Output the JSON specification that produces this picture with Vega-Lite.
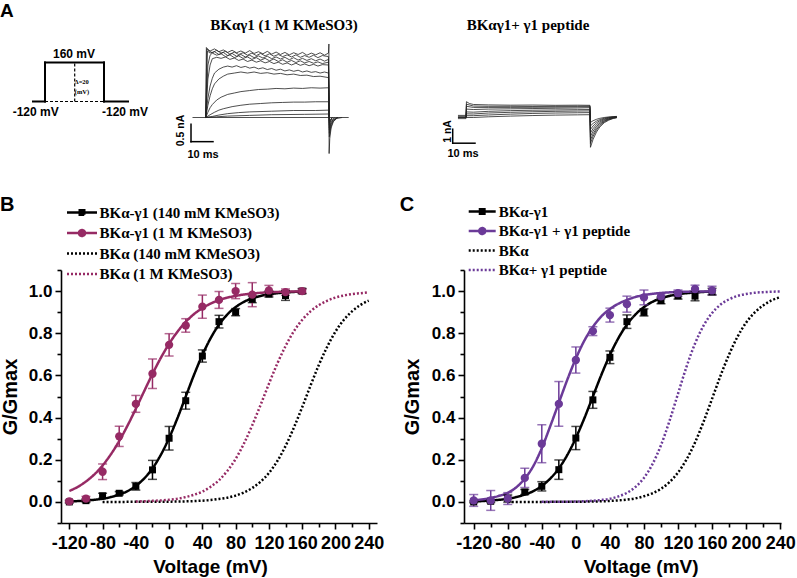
{
"$schema": "https://vega.github.io/schema/vega-lite/v6.json",
"background": "white",
"padding": {"left": 0, "top": 1.5, "right": 0, "bottom": 0},
"config": {
  "view": {"stroke": null},
  "axis": {"grid": false, "domainColor": "#000", "domainWidth": 1.6, "tickColor": "#000", "tickWidth": 1.6, "labelColor": "#000", "labelFont": "Liberation Sans", "labelFontSize": 17, "labelFontWeight": "bold", "titleColor": "#000", "titleFont": "Liberation Sans", "titleFontWeight": "bold", "titleFontSize": 20, "labelOverlap": false, "labelFlush": false},
  "title": {"color": "#000"}
},
"datasets": {
  "proto": [
    {"t": 0, "v": -120, "t2": 12, "v2": -120},
    {"t": 12, "v": -120, "t2": 12, "v2": 160},
    {"t": 12, "v": 160, "t2": 71, "v2": 160},
    {"t": 71, "v": 160, "t2": 71, "v2": -120},
    {"t": 71, "v": -120, "t2": 95, "v2": -120}
  ],
  "proto_dash": [
    {"t": 12, "v": -120, "t2": 71, "v2": -120},
    {"t": 41.7, "v": -120, "t2": 41.7, "v2": 160}
  ],
  "trace1": [
    {"k":0,"t":-6,"i":0},{"k":0,"t":65,"i":0},
    {"k":1,"t":0,"i":0},{"k":1,"t":0.3,"i":2.0},{"k":1,"t":1,"i":1.95},{"k":1,"t":2,"i":1.9},{"k":1,"t":4,"i":1.96},{"k":1,"t":6,"i":1.88},{"k":1,"t":8,"i":1.93},{"k":1,"t":10,"i":1.86},{"k":1,"t":12,"i":1.92},{"k":1,"t":14,"i":1.85},{"k":1,"t":16,"i":1.9},{"k":1,"t":18,"i":1.84},{"k":1,"t":20,"i":1.91},{"k":1,"t":22,"i":1.83},{"k":1,"t":24,"i":1.88},{"k":1,"t":26,"i":1.82},{"k":1,"t":28,"i":1.89},{"k":1,"t":30,"i":1.81},{"k":1,"t":32,"i":1.87},{"k":1,"t":34,"i":1.8},{"k":1,"t":36,"i":1.86},{"k":1,"t":38,"i":1.79},{"k":1,"t":40,"i":1.85},{"k":1,"t":42,"i":1.8},{"k":1,"t":44,"i":1.86},{"k":1,"t":46,"i":1.78},{"k":1,"t":48,"i":1.84},{"k":1,"t":50,"i":1.79},{"k":1,"t":52,"i":1.85},{"k":1,"t":54,"i":1.78},{"k":1,"t":55.8,"i":1.84},{"k":1,"t":56,"i":2.1},{"k":1,"t":56.1,"i":-1.03},{"k":1,"t":56.4,"i":-0.6},{"k":1,"t":57,"i":-0.3},{"k":1,"t":58,"i":-0.12},{"k":1,"t":59.5,"i":-0.03},{"k":1,"t":62,"i":0},
    {"k":2,"t":0,"i":0},{"k":2,"t":0.5,"i":1.96},{"k":2,"t":1.5,"i":1.9},{"k":2,"t":3,"i":1.85},{"k":2,"t":5,"i":1.92},{"k":2,"t":7,"i":1.84},{"k":2,"t":9,"i":1.89},{"k":2,"t":11,"i":1.81},{"k":2,"t":13,"i":1.87},{"k":2,"t":15,"i":1.8},{"k":2,"t":17,"i":1.85},{"k":2,"t":19,"i":1.78},{"k":2,"t":21,"i":1.84},{"k":2,"t":23,"i":1.77},{"k":2,"t":25,"i":1.83},{"k":2,"t":27,"i":1.76},{"k":2,"t":29,"i":1.82},{"k":2,"t":31,"i":1.75},{"k":2,"t":33,"i":1.8},{"k":2,"t":35,"i":1.74},{"k":2,"t":37,"i":1.79},{"k":2,"t":39,"i":1.73},{"k":2,"t":41,"i":1.79},{"k":2,"t":43,"i":1.72},{"k":2,"t":45,"i":1.77},{"k":2,"t":47,"i":1.72},{"k":2,"t":49,"i":1.78},{"k":2,"t":51,"i":1.71},{"k":2,"t":53,"i":1.77},{"k":2,"t":55.8,"i":1.74},{"k":2,"t":56.2,"i":-0.55},{"k":2,"t":57,"i":-0.25},{"k":2,"t":58,"i":-0.1},{"k":2,"t":60,"i":0},
    {"k":3,"t":0,"i":0},{"k":3,"t":0.8,"i":1.9},{"k":3,"t":2,"i":1.84},{"k":3,"t":4,"i":1.88},{"k":3,"t":6,"i":1.8},{"k":3,"t":8,"i":1.86},{"k":3,"t":10,"i":1.77},{"k":3,"t":12,"i":1.83},{"k":3,"t":14,"i":1.75},{"k":3,"t":16,"i":1.8},{"k":3,"t":18,"i":1.73},{"k":3,"t":20,"i":1.78},{"k":3,"t":22,"i":1.71},{"k":3,"t":24,"i":1.76},{"k":3,"t":26,"i":1.7},{"k":3,"t":28,"i":1.75},{"k":3,"t":30,"i":1.68},{"k":3,"t":32,"i":1.73},{"k":3,"t":34,"i":1.67},{"k":3,"t":36,"i":1.72},{"k":3,"t":38,"i":1.65},{"k":3,"t":40,"i":1.71},{"k":3,"t":42,"i":1.64},{"k":3,"t":44,"i":1.69},{"k":3,"t":46,"i":1.63},{"k":3,"t":48,"i":1.68},{"k":3,"t":50,"i":1.62},{"k":3,"t":52,"i":1.67},{"k":3,"t":54,"i":1.61},{"k":3,"t":55.8,"i":1.66},{"k":3,"t":56.2,"i":-0.45},{"k":3,"t":57,"i":-0.2},{"k":3,"t":58,"i":-0.08},{"k":3,"t":60,"i":0},
    {"k":4,"t":0,"i":0},{"k":4,"t":1,"i":1.5},{"k":4,"t":2,"i":1.78},{"k":4,"t":3,"i":1.84},{"k":4,"t":5,"i":1.78},{"k":4,"t":7,"i":1.82},{"k":4,"t":9,"i":1.74},{"k":4,"t":11,"i":1.79},{"k":4,"t":13,"i":1.71},{"k":4,"t":15,"i":1.76},{"k":4,"t":17,"i":1.69},{"k":4,"t":19,"i":1.73},{"k":4,"t":21,"i":1.66},{"k":4,"t":23,"i":1.71},{"k":4,"t":25,"i":1.64},{"k":4,"t":27,"i":1.69},{"k":4,"t":29,"i":1.62},{"k":4,"t":31,"i":1.67},{"k":4,"t":33,"i":1.6},{"k":4,"t":35,"i":1.65},{"k":4,"t":37,"i":1.58},{"k":4,"t":39,"i":1.63},{"k":4,"t":41,"i":1.57},{"k":4,"t":43,"i":1.62},{"k":4,"t":45,"i":1.56},{"k":4,"t":47,"i":1.6},{"k":4,"t":49,"i":1.55},{"k":4,"t":51,"i":1.59},{"k":4,"t":53,"i":1.54},{"k":4,"t":55.8,"i":1.58},{"k":4,"t":56.2,"i":-0.35},{"k":4,"t":57,"i":-0.15},{"k":4,"t":58,"i":-0.05},{"k":4,"t":60,"i":0},
    {"k":5,"t":0,"i":0},{"k":5,"t":1,"i":1.1},{"k":5,"t":2,"i":1.5},{"k":5,"t":3,"i":1.68},{"k":5,"t":5,"i":1.72},{"k":5,"t":7,"i":1.69},{"k":5,"t":9,"i":1.73},{"k":5,"t":11,"i":1.66},{"k":5,"t":13,"i":1.7},{"k":5,"t":15,"i":1.63},{"k":5,"t":17,"i":1.67},{"k":5,"t":19,"i":1.6},{"k":5,"t":21,"i":1.64},{"k":5,"t":23,"i":1.58},{"k":5,"t":25,"i":1.62},{"k":5,"t":27,"i":1.56},{"k":5,"t":29,"i":1.6},{"k":5,"t":31,"i":1.54},{"k":5,"t":33,"i":1.58},{"k":5,"t":35,"i":1.52},{"k":5,"t":37,"i":1.56},{"k":5,"t":39,"i":1.5},{"k":5,"t":41,"i":1.55},{"k":5,"t":43,"i":1.49},{"k":5,"t":45,"i":1.53},{"k":5,"t":47,"i":1.48},{"k":5,"t":49,"i":1.52},{"k":5,"t":51,"i":1.47},{"k":5,"t":53,"i":1.51},{"k":5,"t":55.8,"i":1.5},{"k":5,"t":56.2,"i":-0.3},{"k":5,"t":57,"i":-0.12},{"k":5,"t":58.5,"i":0},
    {"k":6,"t":0,"i":0},{"k":6,"t":1,"i":0.55},{"k":6,"t":2,"i":0.9},{"k":6,"t":3,"i":1.12},{"k":6,"t":4,"i":1.27},{"k":6,"t":6,"i":1.38},{"k":6,"t":8,"i":1.44},{"k":6,"t":10,"i":1.47},{"k":6,"t":12,"i":1.44},{"k":6,"t":14,"i":1.48},{"k":6,"t":16,"i":1.43},{"k":6,"t":18,"i":1.46},{"k":6,"t":20,"i":1.41},{"k":6,"t":22,"i":1.44},{"k":6,"t":24,"i":1.39},{"k":6,"t":26,"i":1.42},{"k":6,"t":28,"i":1.37},{"k":6,"t":30,"i":1.4},{"k":6,"t":32,"i":1.35},{"k":6,"t":34,"i":1.38},{"k":6,"t":36,"i":1.33},{"k":6,"t":38,"i":1.36},{"k":6,"t":40,"i":1.32},{"k":6,"t":42,"i":1.35},{"k":6,"t":44,"i":1.3},{"k":6,"t":46,"i":1.33},{"k":6,"t":48,"i":1.29},{"k":6,"t":50,"i":1.31},{"k":6,"t":52,"i":1.27},{"k":6,"t":54,"i":1.3},{"k":6,"t":55.8,"i":1.27},{"k":6,"t":56.2,"i":-0.2},{"k":6,"t":57.5,"i":0},
    {"k":7,"t":0,"i":0},{"k":7,"t":1,"i":0.35},{"k":7,"t":2,"i":0.62},{"k":7,"t":3,"i":0.82},{"k":7,"t":4,"i":0.96},{"k":7,"t":6,"i":1.1},{"k":7,"t":8,"i":1.18},{"k":7,"t":10,"i":1.24},{"k":7,"t":13,"i":1.27},{"k":7,"t":16,"i":1.3},{"k":7,"t":19,"i":1.27},{"k":7,"t":22,"i":1.3},{"k":7,"t":25,"i":1.26},{"k":7,"t":28,"i":1.28},{"k":7,"t":31,"i":1.24},{"k":7,"t":34,"i":1.26},{"k":7,"t":37,"i":1.22},{"k":7,"t":40,"i":1.24},{"k":7,"t":43,"i":1.2},{"k":7,"t":46,"i":1.21},{"k":7,"t":49,"i":1.17},{"k":7,"t":52,"i":1.18},{"k":7,"t":55.8,"i":1.14},{"k":7,"t":56.2,"i":-0.15},{"k":7,"t":57.5,"i":0},
    {"k":8,"t":0,"i":0},{"k":8,"t":1,"i":0.15},{"k":8,"t":2,"i":0.28},{"k":8,"t":3,"i":0.37},{"k":8,"t":5,"i":0.5},{"k":8,"t":7,"i":0.58},{"k":8,"t":10,"i":0.66},{"k":8,"t":13,"i":0.7},{"k":8,"t":16,"i":0.74},{"k":8,"t":20,"i":0.77},{"k":8,"t":24,"i":0.8},{"k":8,"t":28,"i":0.81},{"k":8,"t":32,"i":0.83},{"k":8,"t":36,"i":0.82},{"k":8,"t":40,"i":0.84},{"k":8,"t":44,"i":0.83},{"k":8,"t":48,"i":0.85},{"k":8,"t":52,"i":0.84},{"k":8,"t":55.8,"i":0.85},{"k":8,"t":56.2,"i":-0.1},{"k":8,"t":57.5,"i":0},
    {"k":9,"t":0,"i":0},{"k":9,"t":2,"i":0.08},{"k":9,"t":4,"i":0.15},{"k":9,"t":6,"i":0.21},{"k":9,"t":8,"i":0.25},{"k":9,"t":12,"i":0.31},{"k":9,"t":16,"i":0.35},{"k":9,"t":20,"i":0.38},{"k":9,"t":25,"i":0.4},{"k":9,"t":30,"i":0.42},{"k":9,"t":35,"i":0.43},{"k":9,"t":40,"i":0.44},{"k":9,"t":45,"i":0.44},{"k":9,"t":50,"i":0.45},{"k":9,"t":55.8,"i":0.45},{"k":9,"t":56.2,"i":0},
    {"k":10,"t":0,"i":0},{"k":10,"t":3,"i":0.03},{"k":10,"t":6,"i":0.07},{"k":10,"t":10,"i":0.11},{"k":10,"t":15,"i":0.14},{"k":10,"t":20,"i":0.16},{"k":10,"t":30,"i":0.18},{"k":10,"t":40,"i":0.2},{"k":10,"t":50,"i":0.2},{"k":10,"t":55.8,"i":0.21},{"k":10,"t":56.2,"i":0},
    {"k":11,"t":0,"i":0},{"k":11,"t":5,"i":0.02},{"k":11,"t":10,"i":0.04},{"k":11,"t":20,"i":0.06},{"k":11,"t":30,"i":0.08},{"k":11,"t":45,"i":0.09},{"k":11,"t":55.8,"i":0.1},{"k":11,"t":56.2,"i":0}
  ],
  "trace2": [
    {"k":1,"t":-3.6,"i":0},{"k":1,"t":0,"i":0},{"k":1,"t":0.2,"i":1.13},{"k":1,"t":1.5,"i":1.0},{"k":1,"t":3.3,"i":0.93},{"k":1,"t":10,"i":0.9},{"k":1,"t":20,"i":0.88},{"k":1,"t":30,"i":0.89},{"k":1,"t":40,"i":0.87},{"k":1,"t":50,"i":0.88},{"k":1,"t":55.6,"i":0.87},{"k":1,"t":55.8,"i":-2.13},{"k":1,"t":57,"i":-1.55},{"k":1,"t":58.5,"i":-1.04},{"k":1,"t":60,"i":-0.68},{"k":1,"t":62,"i":-0.37},{"k":1,"t":64,"i":-0.19},{"k":1,"t":66,"i":-0.07},{"k":1,"t":67.6,"i":-0.02},
    {"k":2,"t":-3.6,"i":0.08},{"k":2,"t":0,"i":0.08},{"k":2,"t":0.2,"i":0.95},{"k":2,"t":3.3,"i":0.82},{"k":2,"t":10,"i":0.8},{"k":2,"t":20,"i":0.8},{"k":2,"t":30,"i":0.79},{"k":2,"t":40,"i":0.8},{"k":2,"t":50,"i":0.81},{"k":2,"t":55.6,"i":0.82},{"k":2,"t":55.8,"i":-1.85},{"k":2,"t":57,"i":-1.34},{"k":2,"t":58.5,"i":-0.89},{"k":2,"t":60,"i":-0.58},{"k":2,"t":62,"i":-0.31},{"k":2,"t":64,"i":-0.15},{"k":2,"t":66,"i":-0.05},{"k":2,"t":67.6,"i":0.0},
    {"k":3,"t":-3.6,"i":0.15},{"k":3,"t":0,"i":0.15},{"k":3,"t":0.2,"i":0.8},{"k":3,"t":3.3,"i":0.72},{"k":3,"t":10,"i":0.72},{"k":3,"t":20,"i":0.72},{"k":3,"t":30,"i":0.73},{"k":3,"t":40,"i":0.74},{"k":3,"t":50,"i":0.76},{"k":3,"t":55.6,"i":0.77},{"k":3,"t":55.8,"i":-1.6},{"k":3,"t":57,"i":-1.16},{"k":3,"t":58.5,"i":-0.77},{"k":3,"t":60,"i":-0.5},{"k":3,"t":62,"i":-0.26},{"k":3,"t":64,"i":-0.12},{"k":3,"t":66,"i":-0.03},{"k":3,"t":67.6,"i":0.01},
    {"k":4,"t":-3.6,"i":0},{"k":4,"t":0,"i":0},{"k":4,"t":0.2,"i":0.6},{"k":4,"t":3.3,"i":0.57},{"k":4,"t":10,"i":0.6},{"k":4,"t":20,"i":0.62},{"k":4,"t":30,"i":0.64},{"k":4,"t":40,"i":0.66},{"k":4,"t":50,"i":0.68},{"k":4,"t":55.6,"i":0.7},{"k":4,"t":55.8,"i":-1.35},{"k":4,"t":57,"i":-0.97},{"k":4,"t":58.5,"i":-0.64},{"k":4,"t":60,"i":-0.41},{"k":4,"t":62,"i":-0.21},{"k":4,"t":64,"i":-0.09},{"k":4,"t":66,"i":-0.01},{"k":4,"t":67.6,"i":0.02},
    {"k":5,"t":-3.6,"i":-0.08},{"k":5,"t":0,"i":-0.08},{"k":5,"t":0.2,"i":0.4},{"k":5,"t":3.3,"i":0.38},{"k":5,"t":10,"i":0.44},{"k":5,"t":20,"i":0.49},{"k":5,"t":30,"i":0.52},{"k":5,"t":40,"i":0.54},{"k":5,"t":50,"i":0.56},{"k":5,"t":55.6,"i":0.57},{"k":5,"t":55.8,"i":-1.1},{"k":5,"t":57,"i":-0.79},{"k":5,"t":58.5,"i":-0.51},{"k":5,"t":60,"i":-0.32},{"k":5,"t":62,"i":-0.15},{"k":5,"t":64,"i":-0.05},{"k":5,"t":66,"i":0.01},{"k":5,"t":67.6,"i":0.04},
    {"k":6,"t":0,"i":0},{"k":6,"t":0.2,"i":0.26},{"k":6,"t":3.3,"i":0.25},{"k":6,"t":10,"i":0.32},{"k":6,"t":20,"i":0.37},{"k":6,"t":30,"i":0.41},{"k":6,"t":40,"i":0.44},{"k":6,"t":50,"i":0.46},{"k":6,"t":55.6,"i":0.47},{"k":6,"t":55.8,"i":-0.85},{"k":6,"t":57,"i":-0.6},{"k":6,"t":58.5,"i":-0.38},{"k":6,"t":60,"i":-0.23},{"k":6,"t":62,"i":-0.1},{"k":6,"t":64,"i":-0.02},{"k":6,"t":66,"i":0.03},{"k":6,"t":67.6,"i":0.05},
    {"k":7,"t":0,"i":0},{"k":7,"t":0.2,"i":0.13},{"k":7,"t":3.3,"i":0.13},{"k":7,"t":10,"i":0.18},{"k":7,"t":20,"i":0.24},{"k":7,"t":30,"i":0.29},{"k":7,"t":40,"i":0.32},{"k":7,"t":50,"i":0.34},{"k":7,"t":55.6,"i":0.35},{"k":7,"t":55.8,"i":-0.6},{"k":7,"t":57,"i":-0.42},{"k":7,"t":58.5,"i":-0.26},{"k":7,"t":60,"i":-0.15},{"k":7,"t":62,"i":-0.05},{"k":7,"t":64,"i":0.01},{"k":7,"t":66,"i":0.05},{"k":7,"t":67.6,"i":0.06},
    {"k":8,"t":0,"i":0},{"k":8,"t":3.3,"i":0.0},{"k":8,"t":10,"i":0.05},{"k":8,"t":20,"i":0.1},{"k":8,"t":30,"i":0.14},{"k":8,"t":40,"i":0.17},{"k":8,"t":50,"i":0.19},{"k":8,"t":55.6,"i":0.2},{"k":8,"t":55.8,"i":-0.35},{"k":8,"t":57,"i":-0.23},{"k":8,"t":58.5,"i":-0.13},{"k":8,"t":60,"i":-0.06},{"k":8,"t":62,"i":0.0},{"k":8,"t":64,"i":0.04},{"k":8,"t":66,"i":0.06},{"k":8,"t":67.6,"i":0.08}
  ],
  "B_fit": [
    {"series":"BKα-γ1 (140 mM KMeSO3)","V":-120,"G":0.003},{"series":"BKα-γ1 (140 mM KMeSO3)","V":-110,"G":0.004},{"series":"BKα-γ1 (140 mM KMeSO3)","V":-100,"G":0.007},{"series":"BKα-γ1 (140 mM KMeSO3)","V":-90,"G":0.010},{"series":"BKα-γ1 (140 mM KMeSO3)","V":-80,"G":0.015},{"series":"BKα-γ1 (140 mM KMeSO3)","V":-70,"G":0.023},{"series":"BKα-γ1 (140 mM KMeSO3)","V":-60,"G":0.035},{"series":"BKα-γ1 (140 mM KMeSO3)","V":-50,"G":0.051},{"series":"BKα-γ1 (140 mM KMeSO3)","V":-40,"G":0.076},{"series":"BKα-γ1 (140 mM KMeSO3)","V":-30,"G":0.111},{"series":"BKα-γ1 (140 mM KMeSO3)","V":-20,"G":0.159},{"series":"BKα-γ1 (140 mM KMeSO3)","V":-10,"G":0.223},{"series":"BKα-γ1 (140 mM KMeSO3)","V":0,"G":0.303},{"series":"BKα-γ1 (140 mM KMeSO3)","V":10,"G":0.397},{"series":"BKα-γ1 (140 mM KMeSO3)","V":20,"G":0.5},{"series":"BKα-γ1 (140 mM KMeSO3)","V":30,"G":0.603},{"series":"BKα-γ1 (140 mM KMeSO3)","V":40,"G":0.697},{"series":"BKα-γ1 (140 mM KMeSO3)","V":50,"G":0.777},{"series":"BKα-γ1 (140 mM KMeSO3)","V":60,"G":0.841},{"series":"BKα-γ1 (140 mM KMeSO3)","V":70,"G":0.889},{"series":"BKα-γ1 (140 mM KMeSO3)","V":80,"G":0.924},{"series":"BKα-γ1 (140 mM KMeSO3)","V":90,"G":0.949},{"series":"BKα-γ1 (140 mM KMeSO3)","V":100,"G":0.966},{"series":"BKα-γ1 (140 mM KMeSO3)","V":110,"G":0.977},{"series":"BKα-γ1 (140 mM KMeSO3)","V":120,"G":0.985},{"series":"BKα-γ1 (140 mM KMeSO3)","V":130,"G":0.990},{"series":"BKα-γ1 (140 mM KMeSO3)","V":140,"G":0.993},{"series":"BKα-γ1 (140 mM KMeSO3)","V":150,"G":0.996},{"series":"BKα-γ1 (140 mM KMeSO3)","V":160,"G":0.997},
    {"series":"BKα-γ1 (1 M KMeSO3)","V":-120,"G":0.052},{"series":"BKα-γ1 (1 M KMeSO3)","V":-110,"G":0.071},{"series":"BKα-γ1 (1 M KMeSO3)","V":-100,"G":0.097},{"series":"BKα-γ1 (1 M KMeSO3)","V":-90,"G":0.130},{"series":"BKα-γ1 (1 M KMeSO3)","V":-80,"G":0.173},{"series":"BKα-γ1 (1 M KMeSO3)","V":-70,"G":0.226},{"series":"BKα-γ1 (1 M KMeSO3)","V":-60,"G":0.289},{"series":"BKα-γ1 (1 M KMeSO3)","V":-50,"G":0.362},{"series":"BKα-γ1 (1 M KMeSO3)","V":-40,"G":0.442},{"series":"BKα-γ1 (1 M KMeSO3)","V":-30,"G":0.525},{"series":"BKα-γ1 (1 M KMeSO3)","V":-20,"G":0.607},{"series":"BKα-γ1 (1 M KMeSO3)","V":-10,"G":0.683},{"series":"BKα-γ1 (1 M KMeSO3)","V":0,"G":0.750},{"series":"BKα-γ1 (1 M KMeSO3)","V":10,"G":0.807},{"series":"BKα-γ1 (1 M KMeSO3)","V":20,"G":0.854},{"series":"BKα-γ1 (1 M KMeSO3)","V":30,"G":0.891},{"series":"BKα-γ1 (1 M KMeSO3)","V":40,"G":0.919},{"series":"BKα-γ1 (1 M KMeSO3)","V":50,"G":0.941},{"series":"BKα-γ1 (1 M KMeSO3)","V":60,"G":0.957},{"series":"BKα-γ1 (1 M KMeSO3)","V":70,"G":0.969},{"series":"BKα-γ1 (1 M KMeSO3)","V":80,"G":0.977},{"series":"BKα-γ1 (1 M KMeSO3)","V":90,"G":0.984},{"series":"BKα-γ1 (1 M KMeSO3)","V":100,"G":0.988},{"series":"BKα-γ1 (1 M KMeSO3)","V":110,"G":0.992},{"series":"BKα-γ1 (1 M KMeSO3)","V":120,"G":0.994},{"series":"BKα-γ1 (1 M KMeSO3)","V":130,"G":0.996},{"series":"BKα-γ1 (1 M KMeSO3)","V":140,"G":0.997},{"series":"BKα-γ1 (1 M KMeSO3)","V":150,"G":0.998},{"series":"BKα-γ1 (1 M KMeSO3)","V":160,"G":0.998},
    {"series":"BKα (140 mM KMeSO3)","V":-80,"G":0.0},{"series":"BKα (140 mM KMeSO3)","V":-70,"G":0.0001},{"series":"BKα (140 mM KMeSO3)","V":-60,"G":0.0001},{"series":"BKα (140 mM KMeSO3)","V":-50,"G":0.0002},{"series":"BKα (140 mM KMeSO3)","V":-40,"G":0.0002},{"series":"BKα (140 mM KMeSO3)","V":-30,"G":0.0004},{"series":"BKα (140 mM KMeSO3)","V":-20,"G":0.0005},{"series":"BKα (140 mM KMeSO3)","V":-10,"G":0.0008},{"series":"BKα (140 mM KMeSO3)","V":0,"G":0.0012},{"series":"BKα (140 mM KMeSO3)","V":10,"G":0.0018},{"series":"BKα (140 mM KMeSO3)","V":20,"G":0.0027},{"series":"BKα (140 mM KMeSO3)","V":30,"G":0.004},{"series":"BKα (140 mM KMeSO3)","V":40,"G":0.006},{"series":"BKα (140 mM KMeSO3)","V":50,"G":0.009},{"series":"BKα (140 mM KMeSO3)","V":60,"G":0.014},{"series":"BKα (140 mM KMeSO3)","V":70,"G":0.020},{"series":"BKα (140 mM KMeSO3)","V":80,"G":0.030},{"series":"BKα (140 mM KMeSO3)","V":90,"G":0.045},{"series":"BKα (140 mM KMeSO3)","V":100,"G":0.066},{"series":"BKα (140 mM KMeSO3)","V":110,"G":0.096},{"series":"BKα (140 mM KMeSO3)","V":120,"G":0.137},{"series":"BKα (140 mM KMeSO3)","V":130,"G":0.193},{"series":"BKα (140 mM KMeSO3)","V":140,"G":0.265},{"series":"BKα (140 mM KMeSO3)","V":150,"G":0.352},{"series":"BKα (140 mM KMeSO3)","V":160,"G":0.449},{"series":"BKα (140 mM KMeSO3)","V":170,"G":0.551},{"series":"BKα (140 mM KMeSO3)","V":180,"G":0.649},{"series":"BKα (140 mM KMeSO3)","V":190,"G":0.735},{"series":"BKα (140 mM KMeSO3)","V":200,"G":0.807},{"series":"BKα (140 mM KMeSO3)","V":210,"G":0.863},{"series":"BKα (140 mM KMeSO3)","V":220,"G":0.904},{"series":"BKα (140 mM KMeSO3)","V":230,"G":0.934},{"series":"BKα (140 mM KMeSO3)","V":240,"G":0.955},
    {"series":"BKα (1 M KMeSO3)","V":-40,"G":0.002},{"series":"BKα (1 M KMeSO3)","V":-30,"G":0.003},{"series":"BKα (1 M KMeSO3)","V":-20,"G":0.005},{"series":"BKα (1 M KMeSO3)","V":-10,"G":0.007},{"series":"BKα (1 M KMeSO3)","V":0,"G":0.010},{"series":"BKα (1 M KMeSO3)","V":10,"G":0.015},{"series":"BKα (1 M KMeSO3)","V":20,"G":0.023},{"series":"BKα (1 M KMeSO3)","V":30,"G":0.034},{"series":"BKα (1 M KMeSO3)","V":40,"G":0.049},{"series":"BKα (1 M KMeSO3)","V":50,"G":0.072},{"series":"BKα (1 M KMeSO3)","V":60,"G":0.103},{"series":"BKα (1 M KMeSO3)","V":70,"G":0.147},{"series":"BKα (1 M KMeSO3)","V":80,"G":0.204},{"series":"BKα (1 M KMeSO3)","V":90,"G":0.277},{"series":"BKα (1 M KMeSO3)","V":100,"G":0.364},{"series":"BKα (1 M KMeSO3)","V":110,"G":0.460},{"series":"BKα (1 M KMeSO3)","V":120,"G":0.560},{"series":"BKα (1 M KMeSO3)","V":130,"G":0.655},{"series":"BKα (1 M KMeSO3)","V":140,"G":0.739},{"series":"BKα (1 M KMeSO3)","V":150,"G":0.809},{"series":"BKα (1 M KMeSO3)","V":160,"G":0.863},{"series":"BKα (1 M KMeSO3)","V":170,"G":0.904},{"series":"BKα (1 M KMeSO3)","V":180,"G":0.933},{"series":"BKα (1 M KMeSO3)","V":190,"G":0.954},{"series":"BKα (1 M KMeSO3)","V":200,"G":0.969},{"series":"BKα (1 M KMeSO3)","V":210,"G":0.979},{"series":"BKα (1 M KMeSO3)","V":220,"G":0.986},{"series":"BKα (1 M KMeSO3)","V":230,"G":0.990},{"series":"BKα (1 M KMeSO3)","V":240,"G":0.994}
  ],
  "B_pts": [
    {"series":"BKα-γ1 (140 mM KMeSO3)","V":-120,"G":0.0,"err":0.005},{"series":"BKα-γ1 (140 mM KMeSO3)","V":-100,"G":0.006,"err":0.008},{"series":"BKα-γ1 (140 mM KMeSO3)","V":-80,"G":0.029,"err":0.012},{"series":"BKα-γ1 (140 mM KMeSO3)","V":-60,"G":0.041,"err":0.008},{"series":"BKα-γ1 (140 mM KMeSO3)","V":-40,"G":0.074,"err":0.018},{"series":"BKα-γ1 (140 mM KMeSO3)","V":-20,"G":0.152,"err":0.045},{"series":"BKα-γ1 (140 mM KMeSO3)","V":0,"G":0.302,"err":0.056},{"series":"BKα-γ1 (140 mM KMeSO3)","V":20,"G":0.48,"err":0.04},{"series":"BKα-γ1 (140 mM KMeSO3)","V":40,"G":0.692,"err":0.029},{"series":"BKα-γ1 (140 mM KMeSO3)","V":60,"G":0.855,"err":0.03},{"series":"BKα-γ1 (140 mM KMeSO3)","V":80,"G":0.9,"err":0.017},{"series":"BKα-γ1 (140 mM KMeSO3)","V":100,"G":0.961,"err":0.016},{"series":"BKα-γ1 (140 mM KMeSO3)","V":120,"G":0.986,"err":0.014},{"series":"BKα-γ1 (140 mM KMeSO3)","V":140,"G":0.979,"err":0.023},{"series":"BKα-γ1 (140 mM KMeSO3)","V":160,"G":1.0,"err":0.012},
    {"series":"BKα-γ1 (1 M KMeSO3)","V":-120,"G":0.003,"err":0.006},{"series":"BKα-γ1 (1 M KMeSO3)","V":-100,"G":0.016,"err":0.01},{"series":"BKα-γ1 (1 M KMeSO3)","V":-80,"G":0.143,"err":0.037},{"series":"BKα-γ1 (1 M KMeSO3)","V":-60,"G":0.311,"err":0.048},{"series":"BKα-γ1 (1 M KMeSO3)","V":-40,"G":0.465,"err":0.04},{"series":"BKα-γ1 (1 M KMeSO3)","V":-20,"G":0.608,"err":0.07},{"series":"BKα-γ1 (1 M KMeSO3)","V":0,"G":0.745,"err":0.053},{"series":"BKα-γ1 (1 M KMeSO3)","V":20,"G":0.837,"err":0.032},{"series":"BKα-γ1 (1 M KMeSO3)","V":40,"G":0.926,"err":0.055},{"series":"BKα-γ1 (1 M KMeSO3)","V":60,"G":0.958,"err":0.04},{"series":"BKα-γ1 (1 M KMeSO3)","V":80,"G":1.0,"err":0.036},{"series":"BKα-γ1 (1 M KMeSO3)","V":100,"G":0.983,"err":0.057},{"series":"BKα-γ1 (1 M KMeSO3)","V":120,"G":1.003,"err":0.024},{"series":"BKα-γ1 (1 M KMeSO3)","V":140,"G":0.995,"err":0.015},{"series":"BKα-γ1 (1 M KMeSO3)","V":160,"G":1.0,"err":0.01}
  ],
  "C_fit": [
    {"series":"BKα-γ1","V":-120,"G":0.003},{"series":"BKα-γ1","V":-110,"G":0.004},{"series":"BKα-γ1","V":-100,"G":0.007},{"series":"BKα-γ1","V":-90,"G":0.010},{"series":"BKα-γ1","V":-80,"G":0.015},{"series":"BKα-γ1","V":-70,"G":0.023},{"series":"BKα-γ1","V":-60,"G":0.035},{"series":"BKα-γ1","V":-50,"G":0.051},{"series":"BKα-γ1","V":-40,"G":0.076},{"series":"BKα-γ1","V":-30,"G":0.111},{"series":"BKα-γ1","V":-20,"G":0.159},{"series":"BKα-γ1","V":-10,"G":0.223},{"series":"BKα-γ1","V":0,"G":0.303},{"series":"BKα-γ1","V":10,"G":0.397},{"series":"BKα-γ1","V":20,"G":0.5},{"series":"BKα-γ1","V":30,"G":0.603},{"series":"BKα-γ1","V":40,"G":0.697},{"series":"BKα-γ1","V":50,"G":0.777},{"series":"BKα-γ1","V":60,"G":0.841},{"series":"BKα-γ1","V":70,"G":0.889},{"series":"BKα-γ1","V":80,"G":0.924},{"series":"BKα-γ1","V":90,"G":0.949},{"series":"BKα-γ1","V":100,"G":0.966},{"series":"BKα-γ1","V":110,"G":0.977},{"series":"BKα-γ1","V":120,"G":0.985},{"series":"BKα-γ1","V":130,"G":0.990},{"series":"BKα-γ1","V":140,"G":0.993},{"series":"BKα-γ1","V":150,"G":0.996},{"series":"BKα-γ1","V":160,"G":0.997},
    {"series":"BKα-γ1 + γ1 peptide","V":-120,"G":0.008},{"series":"BKα-γ1 + γ1 peptide","V":-110,"G":0.012},{"series":"BKα-γ1 + γ1 peptide","V":-100,"G":0.019},{"series":"BKα-γ1 + γ1 peptide","V":-90,"G":0.029},{"series":"BKα-γ1 + γ1 peptide","V":-80,"G":0.043},{"series":"BKα-γ1 + γ1 peptide","V":-70,"G":0.069},{"series":"BKα-γ1 + γ1 peptide","V":-60,"G":0.11},{"series":"BKα-γ1 + γ1 peptide","V":-50,"G":0.17},{"series":"BKα-γ1 + γ1 peptide","V":-40,"G":0.255},{"series":"BKα-γ1 + γ1 peptide","V":-30,"G":0.36},{"series":"BKα-γ1 + γ1 peptide","V":-20,"G":0.47},{"series":"BKα-γ1 + γ1 peptide","V":-10,"G":0.58},{"series":"BKα-γ1 + γ1 peptide","V":0,"G":0.68},{"series":"BKα-γ1 + γ1 peptide","V":10,"G":0.765},{"series":"BKα-γ1 + γ1 peptide","V":20,"G":0.83},{"series":"BKα-γ1 + γ1 peptide","V":30,"G":0.88},{"series":"BKα-γ1 + γ1 peptide","V":40,"G":0.915},{"series":"BKα-γ1 + γ1 peptide","V":50,"G":0.94},{"series":"BKα-γ1 + γ1 peptide","V":60,"G":0.958},{"series":"BKα-γ1 + γ1 peptide","V":70,"G":0.972},{"series":"BKα-γ1 + γ1 peptide","V":80,"G":0.981},{"series":"BKα-γ1 + γ1 peptide","V":90,"G":0.987},{"series":"BKα-γ1 + γ1 peptide","V":100,"G":0.991},{"series":"BKα-γ1 + γ1 peptide","V":110,"G":0.994},{"series":"BKα-γ1 + γ1 peptide","V":120,"G":0.996},{"series":"BKα-γ1 + γ1 peptide","V":130,"G":0.997},{"series":"BKα-γ1 + γ1 peptide","V":140,"G":0.998},{"series":"BKα-γ1 + γ1 peptide","V":150,"G":0.998},{"series":"BKα-γ1 + γ1 peptide","V":160,"G":0.999},
    {"series":"BKα","V":-80,"G":0.0},{"series":"BKα","V":-70,"G":0.0},{"series":"BKα","V":-60,"G":0.0001},{"series":"BKα","V":-50,"G":0.0001},{"series":"BKα","V":-40,"G":0.0001},{"series":"BKα","V":-30,"G":0.0002},{"series":"BKα","V":-20,"G":0.0003},{"series":"BKα","V":-10,"G":0.0005},{"series":"BKα","V":0,"G":0.0008},{"series":"BKα","V":10,"G":0.0012},{"series":"BKα","V":20,"G":0.0019},{"series":"BKα","V":30,"G":0.003},{"series":"BKα","V":40,"G":0.0046},{"series":"BKα","V":50,"G":0.0072},{"series":"BKα","V":60,"G":0.011},{"series":"BKα","V":70,"G":0.017},{"series":"BKα","V":80,"G":0.027},{"series":"BKα","V":90,"G":0.041},{"series":"BKα","V":100,"G":0.062},{"series":"BKα","V":110,"G":0.094},{"series":"BKα","V":120,"G":0.139},{"series":"BKα","V":130,"G":0.201},{"series":"BKα","V":140,"G":0.282},{"series":"BKα","V":150,"G":0.380},{"series":"BKα","V":160,"G":0.489},{"series":"BKα","V":170,"G":0.599},{"series":"BKα","V":180,"G":0.699},{"series":"BKα","V":190,"G":0.784},{"series":"BKα","V":200,"G":0.850},{"series":"BKα","V":210,"G":0.898},{"series":"BKα","V":220,"G":0.932},{"series":"BKα","V":230,"G":0.956},{"series":"BKα","V":240,"G":0.971},
    {"series":"BKα+ γ1 peptide","V":-40,"G":0.0002},{"series":"BKα+ γ1 peptide","V":-30,"G":0.0004},{"series":"BKα+ γ1 peptide","V":-20,"G":0.0007},{"series":"BKα+ γ1 peptide","V":-10,"G":0.0011},{"series":"BKα+ γ1 peptide","V":0,"G":0.0019},{"series":"BKα+ γ1 peptide","V":10,"G":0.0032},{"series":"BKα+ γ1 peptide","V":20,"G":0.0054},{"series":"BKα+ γ1 peptide","V":30,"G":0.0092},{"series":"BKα+ γ1 peptide","V":40,"G":0.015},{"series":"BKα+ γ1 peptide","V":50,"G":0.026},{"series":"BKα+ γ1 peptide","V":60,"G":0.043},{"series":"BKα+ γ1 peptide","V":70,"G":0.071},{"series":"BKα+ γ1 peptide","V":80,"G":0.114},{"series":"BKα+ γ1 peptide","V":90,"G":0.179},{"series":"BKα+ γ1 peptide","V":100,"G":0.269},{"series":"BKα+ γ1 peptide","V":110,"G":0.384},{"series":"BKα+ γ1 peptide","V":120,"G":0.513},{"series":"BKα+ γ1 peptide","V":130,"G":0.641},{"series":"BKα+ γ1 peptide","V":140,"G":0.751},{"series":"BKα+ γ1 peptide","V":150,"G":0.836},{"series":"BKα+ γ1 peptide","V":160,"G":0.896},{"series":"BKα+ γ1 peptide","V":170,"G":0.936},{"series":"BKα+ γ1 peptide","V":180,"G":0.961},{"series":"BKα+ γ1 peptide","V":190,"G":0.977},{"series":"BKα+ γ1 peptide","V":200,"G":0.986},{"series":"BKα+ γ1 peptide","V":210,"G":0.992},{"series":"BKα+ γ1 peptide","V":220,"G":0.995},{"series":"BKα+ γ1 peptide","V":230,"G":0.997},{"series":"BKα+ γ1 peptide","V":240,"G":0.998}
  ],
  "C_pts": [
    {"series":"BKα-γ1","V":-120,"G":0.0,"err":0.004},{"series":"BKα-γ1","V":-100,"G":0.003,"err":0.006},{"series":"BKα-γ1","V":-80,"G":0.016,"err":0.017},{"series":"BKα-γ1","V":-60,"G":0.047,"err":0.012},{"series":"BKα-γ1","V":-40,"G":0.074,"err":0.022},{"series":"BKα-γ1","V":-20,"G":0.153,"err":0.046},{"series":"BKα-γ1","V":0,"G":0.303,"err":0.055},{"series":"BKα-γ1","V":20,"G":0.484,"err":0.04},{"series":"BKα-γ1","V":40,"G":0.686,"err":0.03},{"series":"BKα-γ1","V":60,"G":0.855,"err":0.032},{"series":"BKα-γ1","V":80,"G":0.899,"err":0.017},{"series":"BKα-γ1","V":100,"G":0.955,"err":0.015},{"series":"BKα-γ1","V":120,"G":0.978,"err":0.016},{"series":"BKα-γ1","V":140,"G":0.976,"err":0.022},{"series":"BKα-γ1","V":160,"G":0.997,"err":0.016},
    {"series":"BKα-γ1 + γ1 peptide","V":-120,"G":0.007,"err":0.028},{"series":"BKα-γ1 + γ1 peptide","V":-100,"G":0.007,"err":0.047},{"series":"BKα-γ1 + γ1 peptide","V":-80,"G":0.016,"err":0.028},{"series":"BKα-γ1 + γ1 peptide","V":-60,"G":0.114,"err":0.046},{"series":"BKα-γ1 + γ1 peptide","V":-40,"G":0.276,"err":0.09},{"series":"BKα-γ1 + γ1 peptide","V":-20,"G":0.465,"err":0.106},{"series":"BKα-γ1 + γ1 peptide","V":0,"G":0.673,"err":0.062},{"series":"BKα-γ1 + γ1 peptide","V":20,"G":0.81,"err":0.021},{"series":"BKα-γ1 + γ1 peptide","V":40,"G":0.886,"err":0.033},{"series":"BKα-γ1 + γ1 peptide","V":60,"G":0.938,"err":0.038},{"series":"BKα-γ1 + γ1 peptide","V":80,"G":0.97,"err":0.035},{"series":"BKα-γ1 + γ1 peptide","V":100,"G":0.975,"err":0.012},{"series":"BKα-γ1 + γ1 peptide","V":120,"G":0.99,"err":0.015},{"series":"BKα-γ1 + γ1 peptide","V":140,"G":1.01,"err":0.018},{"series":"BKα-γ1 + γ1 peptide","V":160,"G":1.003,"err":0.02}
  ]
},
"bounds": "flush",
"spacing": 231.5,
"resolve": {"scale": {"color": "independent", "shape": "independent", "strokeDash": "independent", "size": "independent"}, "legend": {"color": "independent"}},
"vconcat": [
  {
    "bounds": "flush",
    "spacing": 40,
    "hconcat": [
      {
        "width": 67, "height": 125,
        "title": {"text": "A", "anchor": "start", "frame": "group", "dx": -61, "offset": 2.6, "baseline": "alphabetic", "font": "Liberation Sans", "fontSize": 19, "fontWeight": "bold"},
        "layer": [
          {"data": {"name": "proto"}, "mark": {"type": "rule", "color": "#000", "strokeWidth": 2, "strokeCap": "square"},
           "encoding": {"x": {"field": "t", "type": "quantitative", "scale": {"domain": [28, 95], "nice": false, "zero": false}, "axis": null}, "x2": {"field": "t2"}, "y": {"field": "v", "type": "quantitative", "scale": {"domain": [-565.2, 332.3], "nice": false, "zero": false}, "axis": null}, "y2": {"field": "v2"}}},
          {"data": {"name": "proto_dash"}, "mark": {"type": "rule", "color": "#000", "strokeWidth": 1.2, "strokeDash": [3, 2]},
           "encoding": {"x": {"field": "t", "type": "quantitative"}, "x2": {"field": "t2"}, "y": {"field": "v", "type": "quantitative"}, "y2": {"field": "v2"}}},
          {"data": {"values": [{}]}, "mark": {"type": "text", "font": "Liberation Sans", "fontWeight": "bold", "fontSize": 12, "color": "#000", "baseline": "middle", "align": "center"},
           "encoding": {"x": {"datum": 41}, "y": {"datum": 217.5}, "text": {"value": "160 mV"}}},
          {"data": {"values": [{}]}, "mark": {"type": "text", "font": "Liberation Sans", "fontWeight": "bold", "fontSize": 12, "color": "#000", "baseline": "middle", "align": "center"},
           "encoding": {"x": {"datum": 2.7}, "y": {"datum": -199}, "text": {"value": "-120 mV"}}},
          {"data": {"values": [{}]}, "mark": {"type": "text", "font": "Liberation Sans", "fontWeight": "bold", "fontSize": 12, "color": "#000", "baseline": "middle", "align": "center"},
           "encoding": {"x": {"datum": 92}, "y": {"datum": -199}, "text": {"value": "-120 mV"}}},
          {"data": {"values": [{}]}, "mark": {"type": "text", "font": "Liberation Serif", "fontWeight": "bold", "fontSize": 6.5, "color": "#000", "baseline": "middle", "align": "center"},
           "encoding": {"x": {"datum": 48.7}, "y": {"datum": 16.4}, "text": {"value": "Δ=20"}}},
          {"data": {"values": [{}]}, "mark": {"type": "text", "font": "Liberation Serif", "fontWeight": "bold", "fontSize": 6.5, "color": "#000", "baseline": "middle", "align": "center"},
           "encoding": {"x": {"datum": 49}, "y": {"datum": -51.8}, "text": {"value": "(mV)"}}}
        ]
      },
      {
        "width": 232, "height": 125,
        "title": {"text": "BKαγ1 (1 M KMeSO3)", "anchor": "middle", "frame": "group", "offset": -6.4, "baseline": "alphabetic", "font": "Liberation Serif", "fontSize": 15, "fontWeight": "bold"},
        "layer": [
          {"data": {"name": "trace1"}, "mark": {"type": "line", "color": "#222", "strokeWidth": 0.8},
           "encoding": {"x": {"field": "t", "type": "quantitative", "scale": {"domain": [-17.14, 88.32], "nice": false, "zero": false}, "axis": null}, "y": {"field": "i", "type": "quantitative", "scale": {"domain": [-1.314, 2.257], "nice": false, "zero": false}, "axis": null}, "detail": {"field": "k"}}},
          {"data": {"values": [{"t": -6.68, "i": -0.19, "t2": -6.68, "i2": -0.69}, {"t": -6.68, "i": -0.69, "t2": 3.32, "i2": -0.69}]}, "mark": {"type": "rule", "color": "#000", "strokeWidth": 1.5, "strokeCap": "square"},
           "encoding": {"x": {"field": "t", "type": "quantitative"}, "x2": {"field": "t2"}, "y": {"field": "i", "type": "quantitative"}, "y2": {"field": "i2"}}},
          {"data": {"values": [{}]}, "mark": {"type": "text", "font": "Liberation Sans", "fontWeight": "bold", "fontSize": 10.5, "color": "#000", "baseline": "middle", "align": "center", "angle": 270},
           "encoding": {"x": {"datum": -11.2}, "y": {"datum": -0.371}, "text": {"value": "0.5 nA"}}},
          {"data": {"values": [{}]}, "mark": {"type": "text", "font": "Liberation Sans", "fontWeight": "bold", "fontSize": 11, "color": "#000", "baseline": "middle", "align": "center"},
           "encoding": {"x": {"datum": -1.2}, "y": {"datum": -1.057}, "text": {"value": "10 ms"}}}
        ]
      },
      {
        "width": 176, "height": 125,
        "title": {"text": "BKαγ1+ γ1 peptide", "anchor": "middle", "frame": "group", "offset": -6.4, "baseline": "alphabetic", "font": "Liberation Serif", "fontSize": 15, "fontWeight": "bold"},
        "layer": [
          {"data": {"name": "trace2"}, "mark": {"type": "line", "color": "#222", "strokeWidth": 0.8},
           "encoding": {"x": {"field": "t", "type": "quantitative", "scale": {"domain": [-11.66, 67.26], "nice": false, "zero": false}, "axis": null}, "y": {"field": "i", "type": "quantitative", "scale": {"domain": [-3.286, 5.643], "nice": false, "zero": false}, "axis": null}, "detail": {"field": "k"}}},
          {"data": {"values": [{"t": -5.96, "i": -0.836, "t2": -5.96, "i2": -1.836}, {"t": -5.96, "i": -1.836, "t2": 4.04, "i2": -1.836}]}, "mark": {"type": "rule", "color": "#000", "strokeWidth": 1.5, "strokeCap": "square"},
           "encoding": {"x": {"field": "t", "type": "quantitative"}, "x2": {"field": "t2"}, "y": {"field": "i", "type": "quantitative"}, "y2": {"field": "i2"}}},
          {"data": {"values": [{}]}, "mark": {"type": "text", "font": "Liberation Sans", "fontWeight": "bold", "fontSize": 10.5, "color": "#000", "baseline": "middle", "align": "center", "angle": 270},
           "encoding": {"x": {"datum": -8.07}, "y": {"datum": -1.0}, "text": {"value": "1 nA"}}},
          {"data": {"values": [{}]}, "mark": {"type": "text", "font": "Liberation Sans", "fontWeight": "bold", "fontSize": 11, "color": "#000", "baseline": "middle", "align": "center"},
           "encoding": {"x": {"datum": -1.35}, "y": {"datum": -2.64}, "text": {"value": "10 ms"}}}
        ]
      }
    ]
  },
  {
    "bounds": "flush",
    "spacing": 87,
    "resolve": {"scale": {"color": "independent", "shape": "independent", "strokeDash": "independent", "size": "independent"}, "legend": {"color": "independent"}},
    "hconcat": [
      {
        "width": 316, "height": 253,
        "title": {"text": "B", "anchor": "start", "frame": "group", "dx": -61, "offset": -27.5, "baseline": "alphabetic", "font": "Liberation Sans", "fontSize": 20, "fontWeight": "bold"},
        "resolve": {"axis": {"x": "independent", "y": "independent"}},
        "layer": [
          {"data": {"name": "B_fit"}, "mark": {"type": "line", "strokeWidth": 2.5, "interpolate": "monotone"},
           "encoding": {
             "x": {"field": "V", "type": "quantitative", "scale": {"domain": [-130, 250], "nice": false, "zero": false},
                   "axis": {"orient": "bottom", "values": [-120, -80, -40, 0, 40, 80, 120, 160, 200, 240], "labelExpr": "'' + datum.value", "labelFontSize": 18, "tickSize": 6, "labelPadding": 5, "title": "Voltage (mV)", "titleX": 149, "titleY": 49, "titleBaseline": "alphabetic", "titleFontSize": 19}},
             "y": {"field": "G", "type": "quantitative", "scale": {"domain": [-0.1, 1.1], "nice": false, "zero": false},
                   "axis": {"orient": "left", "values": [0, 0.2, 0.4, 0.6, 0.8, 1.0], "format": ".1f", "tickSize": 6, "labelPadding": 3, "title": "G/Gmax", "titleX": -51, "titleBaseline": "middle", "titleFontSize": 20}},
             "color": {"field": "series", "type": "nominal",
                       "scale": {"domain": ["BKα-γ1 (140 mM KMeSO3)", "BKα-γ1 (1 M KMeSO3)", "BKα (140 mM KMeSO3)", "BKα (1 M KMeSO3)"], "range": ["#000000", "#962a64", "#000000", "#962a64"]},
                       "legend": {"orient": "none", "legendX": 12, "legendY": -66.5, "title": null, "padding": 0, "symbolSize": 225, "symbolStrokeWidth": 2.5, "labelFont": "Liberation Serif", "labelFontWeight": "bold", "labelFontSize": 15, "labelColor": "#000", "labelLimit": 400, "labelOffset": 8.5, "rowPadding": 3.5,
                                  "encoding": {"symbols": {
                                    "shape": {"value": {"expr": "indexof(datum.value, '-γ1') < 0 ? 'M-2,0H2' : (indexof(datum.value, '140') >= 0 ? 'M-2,0H2M-0.3,-0.3H0.3V0.3H-0.3Z' : 'M-2,0H2M0.4,0A0.4,0.4,0,1,1,-0.4,0A0.4,0.4,0,1,1,0.4,0Z')"}},
                                    "strokeDash": {"value": {"expr": "indexof(datum.value, '-γ1') < 0 ? [2,2] : [1,0]"}},
                                    "fill": {"value": {"expr": "indexof(datum.value, '140') >= 0 ? '#000000' : '#962a64'"}},
                                    "stroke": {"value": {"expr": "indexof(datum.value, '140') >= 0 ? '#000000' : '#962a64'"}},
                                    "strokeWidth": {"value": 2.5},
                                    "opacity": {"value": 1}
                                  }}}},
             "strokeDash": {"field": "series", "type": "nominal", "scale": {"domain": ["BKα-γ1 (140 mM KMeSO3)", "BKα-γ1 (1 M KMeSO3)", "BKα (140 mM KMeSO3)", "BKα (1 M KMeSO3)"], "range": [[1, 0], [1, 0], [2, 2], [2, 2]]}, "legend": null},
             "detail": {"field": "series"}
           }},
          {"data": {"name": "B_pts"}, "mark": {"type": "errorbar", "thickness": 1.5, "ticks": {"size": 9, "thickness": 1.5}, "rule": {"strokeWidth": 1.5}},
           "encoding": {"x": {"field": "V", "type": "quantitative", "axis": null}, "y": {"field": "G", "type": "quantitative", "axis": null}, "yError": {"field": "err"}, "color": {"field": "series", "type": "nominal", "legend": null}}},
          {"data": {"name": "B_pts"}, "mark": {"type": "point", "filled": true, "opacity": 1, "strokeWidth": 0},
           "encoding": {
             "x": {"field": "V", "type": "quantitative", "axis": {"orient": "bottom", "values": [-100, -60, -20, 20, 60, 100, 140, 180, 220], "tickSize": 4, "labels": false, "domain": false, "title": null}},
             "y": {"field": "G", "type": "quantitative", "axis": {"orient": "left", "values": [-0.1, 0.1, 0.3, 0.5, 0.7, 0.9, 1.1], "tickSize": 4, "labels": false, "domain": false, "title": null}},
             "color": {"field": "series", "type": "nominal", "legend": null},
             "shape": {"field": "series", "type": "nominal", "scale": {"domain": ["BKα-γ1 (140 mM KMeSO3)", "BKα-γ1 (1 M KMeSO3)"], "range": ["square", "circle"]}, "legend": null},
             "size": {"field": "series", "type": "nominal", "scale": {"domain": ["BKα-γ1 (140 mM KMeSO3)", "BKα-γ1 (1 M KMeSO3)"], "range": [49, 69]}, "legend": null}
           }}
        ]
      },
      {
        "width": 317, "height": 253,
        "title": {"text": "C", "anchor": "start", "frame": "group", "dx": -64.3, "offset": -27.5, "baseline": "alphabetic", "font": "Liberation Sans", "fontSize": 20, "fontWeight": "bold"},
        "resolve": {"axis": {"x": "independent", "y": "independent"}},
        "layer": [
          {"data": {"name": "C_fit"}, "mark": {"type": "line", "strokeWidth": 2.5, "interpolate": "monotone"},
           "encoding": {
             "x": {"field": "V", "type": "quantitative", "scale": {"domain": [-131.4, 241], "nice": false, "zero": false},
                   "axis": {"orient": "bottom", "values": [-120, -80, -40, 0, 40, 80, 120, 160, 200, 240], "labelExpr": "'' + datum.value", "labelFontSize": 18, "tickSize": 6, "labelPadding": 5, "title": "Voltage (mV)", "titleX": 176.7, "titleY": 49, "titleBaseline": "alphabetic", "titleFontSize": 19}},
             "y": {"field": "G", "type": "quantitative", "scale": {"domain": [-0.1, 1.1], "nice": false, "zero": false},
                   "axis": {"orient": "left", "values": [0, 0.2, 0.4, 0.6, 0.8, 1.0], "format": ".1f", "tickSize": 6, "labelPadding": 3, "title": "G/Gmax", "titleX": -51.5, "titleBaseline": "middle", "titleFontSize": 20}},
             "color": {"field": "series", "type": "nominal",
                       "scale": {"domain": ["BKα-γ1", "BKα-γ1 + γ1 peptide", "BKα", "BKα+ γ1 peptide"], "range": ["#000000", "#6b3a98", "#000000", "#6b3a98"]},
                       "legend": {"orient": "none", "legendX": 10.2, "legendY": -66.5, "title": null, "padding": 0, "symbolSize": 182, "symbolStrokeWidth": 2.5, "labelFont": "Liberation Serif", "labelFontWeight": "bold", "labelFontSize": 15, "labelColor": "#000", "labelLimit": 400, "labelOffset": 8.5, "rowPadding": 3.5,
                                  "encoding": {"symbols": {
                                    "shape": {"value": {"expr": "indexof(datum.value, '-γ1') < 0 ? 'M-2,0H2' : (indexof(datum.value, 'peptide') < 0 ? 'M-2,0H2M-0.33,-0.33H0.33V0.33H-0.33Z' : 'M-2,0H2M0.44,0A0.44,0.44,0,1,1,-0.44,0A0.44,0.44,0,1,1,0.44,0Z')"}},
                                    "strokeDash": {"value": {"expr": "indexof(datum.value, '-γ1') < 0 ? [2,2] : [1,0]"}},
                                    "fill": {"value": {"expr": "indexof(datum.value, 'peptide') >= 0 ? '#6b3a98' : '#000000'"}},
                                    "stroke": {"value": {"expr": "indexof(datum.value, 'peptide') >= 0 ? '#6b3a98' : '#000000'"}},
                                    "strokeWidth": {"value": 2.5},
                                    "opacity": {"value": 1}
                                  }}}},
             "strokeDash": {"field": "series", "type": "nominal", "scale": {"domain": ["BKα-γ1", "BKα-γ1 + γ1 peptide", "BKα", "BKα+ γ1 peptide"], "range": [[1, 0], [1, 0], [2, 2], [2, 2]]}, "legend": null},
             "detail": {"field": "series"}
           }},
          {"data": {"name": "C_pts"}, "mark": {"type": "errorbar", "thickness": 1.5, "ticks": {"size": 9, "thickness": 1.5}, "rule": {"strokeWidth": 1.5}},
           "encoding": {"x": {"field": "V", "type": "quantitative", "axis": null}, "y": {"field": "G", "type": "quantitative", "axis": null}, "yError": {"field": "err"}, "color": {"field": "series", "type": "nominal", "legend": null}}},
          {"data": {"name": "C_pts"}, "mark": {"type": "point", "filled": true, "opacity": 1, "strokeWidth": 0},
           "encoding": {
             "x": {"field": "V", "type": "quantitative", "axis": {"orient": "bottom", "values": [-100, -60, -20, 20, 60, 100, 140, 180, 220], "tickSize": 4, "labels": false, "domain": false, "title": null}},
             "y": {"field": "G", "type": "quantitative", "axis": {"orient": "left", "values": [-0.1, 0.1, 0.3, 0.5, 0.7, 0.9, 1.1], "tickSize": 4, "labels": false, "domain": false, "title": null}},
             "color": {"field": "series", "type": "nominal", "legend": null},
             "shape": {"field": "series", "type": "nominal", "scale": {"domain": ["BKα-γ1", "BKα-γ1 + γ1 peptide"], "range": ["square", "circle"]}, "legend": null},
             "size": {"field": "series", "type": "nominal", "scale": {"domain": ["BKα-γ1", "BKα-γ1 + γ1 peptide"], "range": [49, 69]}, "legend": null}
           }}
        ]
      }
    ]
  }
]
}
